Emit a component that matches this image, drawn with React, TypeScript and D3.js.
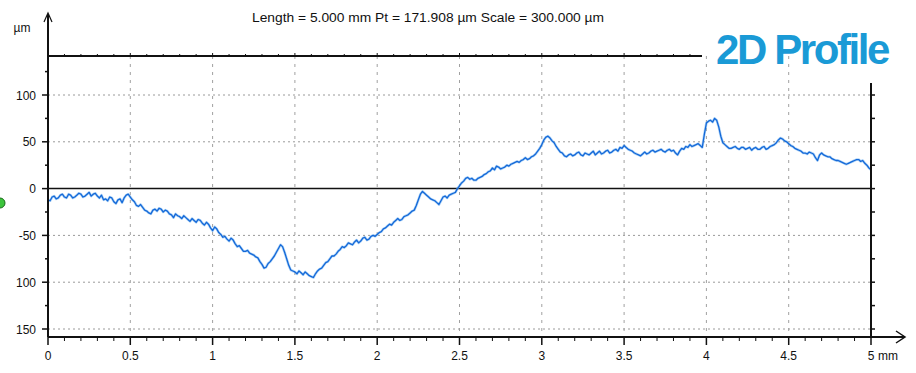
import React from "react";
import * as d3 from "d3";

// Profile depth in µm, evenly sampled from 0 to 5 mm
const profileLength = 5;
const depth = [
  -12, -13, -9, -8, -11, -10, -7, -6, -9, -10, -6, -7, -10, -9, -7, -5, -6, -9, -8, -6,
  -4, -8, -6, -5, -8, -10, -7, -12, -11, -13, -9, -10, -14, -16, -12, -11, -15, -10, -7, -6,
  -9, -12, -14, -18, -19, -17, -20, -23, -24, -26, -27, -23, -22, -24, -21, -22, -25, -23, -24, -27,
  -28, -31, -27, -29, -30, -32, -29, -31, -33, -35, -32, -34, -36, -33, -34, -37, -39, -36, -38, -42,
  -45, -41, -43, -47, -49, -52, -51, -54, -56, -53, -55, -59, -62, -61, -64, -67, -67, -66, -69, -70,
  -71, -73, -74, -78, -81, -85, -84, -80, -78, -75, -72, -68, -64, -60, -62, -68, -75, -82, -87, -88,
  -89, -91, -88, -90, -92, -89, -91, -93, -94, -95, -91, -88, -86, -85, -82, -79, -78, -75, -72, -72,
  -70, -67, -65, -62, -63, -61, -58, -59, -60, -57, -55, -58, -56, -53, -52, -55, -54, -51, -50, -51,
  -49, -47, -46, -43, -42, -40, -38, -39, -36, -34, -32, -34, -33, -30, -29, -28, -26, -24, -23, -18,
  -12, -6, -3, -5, -7, -9, -11, -12, -13, -15, -17, -13, -9, -8, -10, -7, -6, -5, -4, 0,
  3, 6, 8, 11, 12, 10, 11, 9, 9, 11, 12, 13, 15, 16, 18, 19, 22, 20, 24, 23,
  21, 22, 23, 25, 24, 26, 27, 28, 29, 28, 30, 31, 33, 31, 32, 34, 35, 37, 40, 43,
  47, 52, 55, 56, 54, 51, 49, 45, 42, 39, 38, 35, 34, 36, 37, 35, 36, 38, 39, 36,
  35, 38, 37, 36, 38, 40, 36, 38, 40, 37, 38, 40, 41, 38, 39, 41, 42, 40, 44, 43,
  46, 44, 42, 41, 40, 38, 37, 36, 35, 37, 39, 37, 38, 40, 41, 39, 40, 41, 42, 40,
  39, 41, 42, 40, 41, 38, 36, 40, 43, 42, 45, 44, 47, 45, 46, 47, 48, 46, 44, 58,
  70, 72, 73, 71, 75, 73, 66, 56, 49, 47, 45, 43, 43, 44, 45, 43, 42, 44, 44, 42,
  43, 44, 41, 43, 44, 42, 42, 44, 45, 42, 43, 45, 46, 47, 49, 52, 54, 53, 51, 50,
  48, 46, 45, 43, 42, 41, 40, 38, 38, 37, 39, 38, 37, 33, 30, 36, 38, 36, 35, 34,
  34, 32, 31, 30, 30, 29, 28, 27, 26, 27, 28, 29, 30, 31, 31, 29, 30, 27, 25, 22,
  20,
];

const xTickValues = [0, 0.5, 1, 1.5, 2, 2.5, 3, 3.5, 4, 4.5, 5];
const xTickLabels = ["0", "0.5", "1", "1.5", "2", "2.5", "3", "3.5", "4", "4.5", "5"];
const yTickValues = [100, 50, 0, -50, -100, -150];
const yTickLabels = ["100", "50", "0", "-50", "100", "150"];
const yGridValues = [100, 50, -50, -100, -150];

const titleText = "Length = 5.000 mm  Pt = 171.908 µm  Scale = 300.000 µm";
const brandText = "2D Profile";

const W = 916;
const H = 373;
const left = 48;
const right = 871;
const topLine = 56;
const bottomAxis = 337;
const topLineEnd = 702;
const rightAxisTop = 83;

export default function App() {
  const x = d3.scaleLinear().domain([0, profileLength]).range([left, right]);
  const y = d3.scaleLinear().domain([-150, 100]).range([329, 95]);

  const step = profileLength / (depth.length - 1);
  const pts = depth.map((d, i) => [i * step, d] as [number, number]);
  const line = d3
    .line<[number, number]>()
    .x((d) => x(d[0]))
    .y((d) => y(d[1]));
  const path = line(pts) || "";

  const minorX = d3.range(0, 51).map((i) => i / 10);
  const minorTop = minorX.filter((v) => x(v) <= topLineEnd);
  const minorY = d3.range(-150, 126, 25);
  const minorYRight = minorY.filter((v) => y(v) >= rightAxisTop);

  const font = "Arial, 'Liberation Sans', sans-serif";

  return (
    <svg
      width={W}
      height={H}
      style={{ position: "absolute", left: 0, top: 0, background: "#fff" }}
      fontFamily={font}
    >
      <rect width={W} height={H} fill="#fff" />

      {/* title */}
      <text
        x={428}
        y={22}
        fontSize={12}
        textAnchor="middle"
        fill="#111"
        fontFamily="'Liberation Sans Narrow', Arial, sans-serif"
        textLength={352}
        lengthAdjust="spacingAndGlyphs"
      >
        {titleText}
      </text>

      {/* brand */}
      <text
        x={716}
        y={64}
        fontSize={42}
        fontWeight="bold"
        fill="#1a9ad6"
        letterSpacing={-2.4}
        fontFamily="'Liberation Sans', Arial, sans-serif"
      >
        {brandText}
      </text>

      {/* horizontal grid */}
      {yGridValues.map((v) => (
        <line
          key={"gy" + v}
          x1={left}
          x2={right}
          y1={y(v)}
          y2={y(v)}
          stroke="#9a9a9a"
          strokeWidth={1}
          strokeDasharray="2,3"
        />
      ))}

      {/* vertical grid */}
      {xTickValues.slice(1, -1).map((v) => (
        <line
          key={"gx" + v}
          x1={x(v)}
          x2={x(v)}
          y1={topLine}
          y2={bottomAxis}
          stroke="#a0a0a0"
          strokeWidth={1}
          strokeDasharray="3,5"
        />
      ))}

      {/* zero line */}
      <line x1={left} x2={right} y1={y(0)} y2={y(0)} stroke="#111" strokeWidth={1.5} />

      {/* top reference line with ticks */}
      <line x1={left} x2={topLineEnd} y1={topLine} y2={topLine} stroke="#111" strokeWidth={2} />
      {minorTop.map((v, i) => (
        <line
          key={"tt" + i}
          x1={x(v)}
          x2={x(v)}
          y1={topLine - (i % 5 === 0 ? 3 : 2)}
          y2={topLine}
          stroke="#111"
          strokeWidth={1}
        />
      ))}

      {/* profile */}
      <path d={path} fill="none" stroke="#6fb3f0" strokeWidth={2.6} strokeOpacity={0.55} strokeLinejoin="round" />
      <path d={path} fill="none" stroke="#1468d8" strokeWidth={1.3} strokeLinejoin="round" />

      {/* left axis */}
      <line x1={left} x2={left} y1={14} y2={bottomAxis} stroke="#111" strokeWidth={2} />
      <path d={`M${left - 4},${22} L${left},${13} L${left + 4},${22}`} fill="none" stroke="#111" strokeWidth={1.2} />
      {minorY.map((v) => (
        <line
          key={"ly" + v}
          x1={left - (v % 50 === 0 ? 6 : 3)}
          x2={left}
          y1={y(v)}
          y2={y(v)}
          stroke="#111"
          strokeWidth={1.5}
        />
      ))}
      {yTickValues.map((v, i) => (
        <text key={"yl" + v} x={36} y={y(v) + 4.5} fontSize={12} textAnchor="end" fill="#111">
          {yTickLabels[i]}
        </text>
      ))}
      <text x={22} y={32} fontSize={12} textAnchor="middle" fill="#111">
        µm
      </text>

      {/* right axis */}
      <line x1={right} x2={right} y1={rightAxisTop} y2={bottomAxis} stroke="#111" strokeWidth={2} />
      {minorYRight.map((v) => (
        <line
          key={"ry" + v}
          x1={right}
          x2={right + 4}
          y1={y(v)}
          y2={y(v)}
          stroke="#111"
          strokeWidth={1.5}
        />
      ))}

      {/* bottom axis */}
      <line x1={left} x2={904} y1={bottomAxis} y2={bottomAxis} stroke="#111" strokeWidth={2} />
      <path
        d={`M${896},${bottomAxis - 6} L${905},${bottomAxis} L${896},${bottomAxis + 6}`}
        fill="none"
        stroke="#111"
        strokeWidth={1.5}
      />
      {minorX.map((v, i) => (
        <line
          key={"bx" + i}
          x1={x(v)}
          x2={x(v)}
          y1={bottomAxis}
          y2={bottomAxis + (i % 5 === 0 ? 8 : 4)}
          stroke="#111"
          strokeWidth={i % 5 === 0 ? 1.5 : 1}
        />
      ))}
      {xTickValues.map((v, i) => (
        <text key={"xl" + v} x={x(v)} y={360} fontSize={12} textAnchor="middle" fill="#111">
          {xTickLabels[i]}
        </text>
      ))}
      <text x={x(5) + 7} y={360} fontSize={12} fill="#111">
        mm
      </text>

      {/* marker on the left edge */}
      <circle cx={0} cy={203} r={5} fill="#3cc43c" stroke="#1a6a1a" strokeWidth={1} />
    </svg>
  );
}
